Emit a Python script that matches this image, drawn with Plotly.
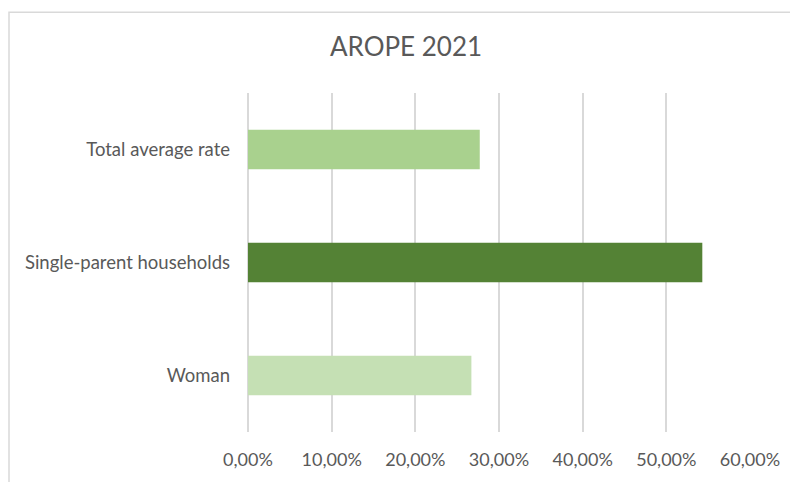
import plotly.graph_objects as go

categories = ["Woman", "Single-parent households", "Total average rate"]
values = [0.267, 0.543, 0.277]
bar_colors = ["#C5E0B4", "#548235", "#A9D18E"]
x_ticks = [0, 0.1, 0.2, 0.3, 0.4, 0.5, 0.6]
title_text = "AROPE 2021"

FONT = "Lato"
TXT = "#595959"
GRID = "#D9D9D9"

# page body has an 8px margin: figure origin sits at (8, 8) on the page
W, H = 790, 474

fig = go.Figure(go.Bar(
    y=categories, x=values, orientation="h",
    marker=dict(color=bar_colors, line=dict(width=0)),
    hoverinfo="x+y",
))

fig.update_layout(
    width=W, height=H,
    margin=dict(l=240, r=48, t=85, b=45),
    paper_bgcolor="white", plot_bgcolor="white",
    separators=", ",
    bargap=0.65,
    showlegend=False,
    font=dict(family=FONT, color=TXT, size=18),
    title=dict(text=title_text, x=398 / W, xref="container", xanchor="center",
               y=1 - 39 / H, yref="container", yanchor="middle",
               font=dict(family=FONT, size=26, color=TXT)),
    xaxis=dict(range=[0, 0.6], tickvals=x_ticks, tickformat=".2%",
               showgrid=True, gridcolor=GRID, gridwidth=1.5,
               zeroline=True, zerolinecolor=GRID, zerolinewidth=1.5,
               showline=False, ticks="", ticklabelstandoff=15,
               tickfont=dict(family=FONT, size=18, color=TXT), fixedrange=True),
    yaxis=dict(showgrid=False, zeroline=False, showline=False, ticks="",
               ticklabelstandoff=17,
               tickfont=dict(family=FONT, size=18.5, color=TXT), fixedrange=True),
    shapes=[dict(type="rect", xref="paper", yref="paper",
                 x0=(9 - 248) / 502, x1=1.2, y0=-0.3, y1=(437 - 11) / 344,
                 line=dict(color=GRID, width=1.5), fillcolor="rgba(0,0,0,0)",
                 layer="below")],
)

fig.write_html("out.html")
